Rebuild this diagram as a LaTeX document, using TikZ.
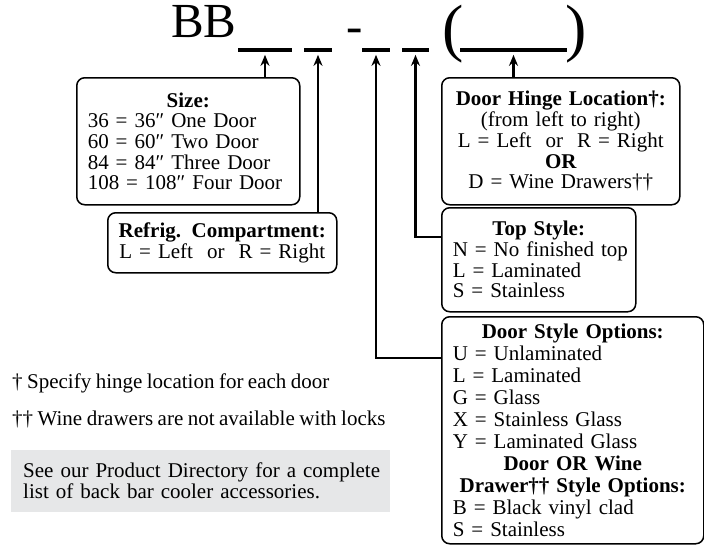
\documentclass[tikz,border=0pt]{standalone}
\usepackage{fontspec}
\setmainfont[WordSpace=0.85]{Liberation Serif}
\usetikzlibrary{arrows.meta}
\definecolor{notegray}{HTML}{E6E7E8}
\begin{document}
\begin{tikzpicture}[x=1pt,y=-1pt,
  box/.style={draw=black, line width=1.5pt, rounded corners=8pt, anchor=north west,
    inner xsep=11pt, inner ysep=0pt, font=\fontsize{21}{20.7}\selectfont},
  cbox/.style={box, inner xsep=3pt, align=center},
  lbox/.style={box, align=left},
  uline/.style={fill=black, inner sep=0pt, minimum height=3.3pt},
  conn/.style={line width=2.2pt, -{Stealth[length=11pt,width=9pt]}, shorten >=3pt},
  txt/.style={inner sep=0pt, anchor=base west, font=\fontsize{21}{21}\selectfont},
  big/.style={inner sep=0pt, anchor=base west, font=\fontsize{49}{49}\selectfont},
  paren/.style={inner sep=0pt, anchor=base west, font=\fontsize{64}{64}\selectfont}
]
\useasboundingbox (0,0) rectangle (704,546);

% title line
\node[big] (bb) at (171,37) {BB};
\node[big] (dash) at (346,42) {-};
\node[paren] (lp) at (442,49.5) {(};
\node[paren] (rp) at (565,49.5) {)};
\node[uline, minimum width=54pt] (s1) at (265,50) {};
\node[uline, minimum width=28pt] (s2) at (318,50) {};
\node[uline, minimum width=28pt] (s3) at (376,50) {};
\node[uline, minimum width=27pt] (s4) at (415.5,50) {};
\node[uline, minimum width=107pt] (s5) at (513.5,50) {};

% boxes
\node[lbox, text width=201pt, minimum height=127pt] (size) at (76,77)
 {\makebox[\linewidth]{\bfseries Size:}\\
  \mbox{36 = 36″ One Door}\\
  \mbox{60 = 60″ Two Door}\\
  \mbox{84 = 84″ Three Door}\\
  \mbox{108 = 108″ Four Door}};

\node[cbox, text width=223pt, minimum height=60pt] (refrig) at (107,212)
 {\mbox{\bfseries Refrig. Compartment:}\\
  \mbox{L = Left\ \ or\ \ R = Right}};

\node[cbox, text width=232pt, minimum height=127pt] (hinge) at (441,77)
 {\mbox{\bfseries Door Hinge Location†:}\\
  \mbox{(from left to right)}\\
  \mbox{L = Left\ \ or\ \ R = Right}\\
  \mbox{\bfseries OR}\\
  \mbox{D = Wine Drawers††}};

\node[lbox, text width=172pt, minimum height=104pt] (top) at (441,207)
 {\makebox[\linewidth]{\bfseries Top Style:}\\
  \mbox{N = No finished top}\\
  \mbox{L = Laminated}\\
  \mbox{S = Stainless}};

\node[lbox, text width=240pt, minimum height=227pt,
      font=\fontsize{21}{22}\selectfont] (door) at (441,316)
 {\makebox[\linewidth]{\bfseries Door Style Options:}\\
  \mbox{U = Unlaminated}\\
  \mbox{L = Laminated}\\
  \mbox{G = Glass}\\
  \mbox{X = Stainless Glass}\\
  \mbox{Y = Laminated Glass}\\
  \makebox[\linewidth]{\bfseries Door OR Wine}\\
  \makebox[\linewidth]{\bfseries Drawer†† Style Options:}\\
  \mbox{B = Black vinyl clad}\\
  \mbox{S = Stainless}};

% connectors
\draw[conn] (size.north -| s1) -- (s1.south);
\draw[conn] (refrig.north -| s2) -- (s2.south);
\draw[conn] ([yshift=-42pt]door.north west) -| (s3.south);
\draw[conn] ([yshift=-30pt]top.north west) -| (s4.south);
\draw[conn] (hinge.north -| s5) -- (s5.south);

% footnotes
\node[txt] (fn1) at (12,388) {† Specify hinge location for each door};
\node[txt] (fn2) at (12,425) {†† Wine drawers are not available with locks};

\node[fill=notegray, anchor=north west, minimum width=379pt, minimum height=62pt,
      text width=355pt, inner xsep=12pt, inner ysep=0pt, align=left,
      font=\fontsize{21}{21}\selectfont] (note) at (11,450)
 {\mbox{See our Product Directory for a complete}\\
  \mbox{list of back bar cooler accessories.}};
\end{tikzpicture}
\end{document}
